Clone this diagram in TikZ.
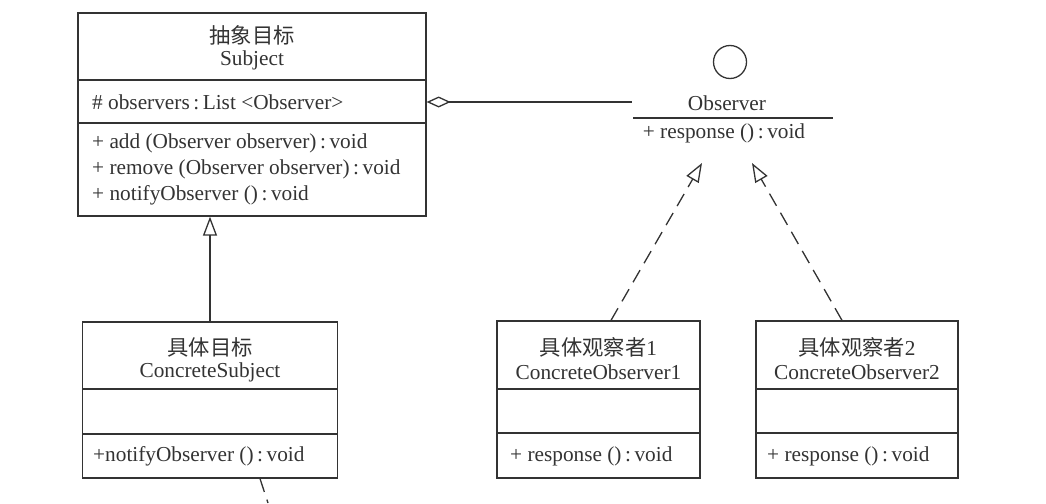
\documentclass[tikz,border=0pt]{standalone}
\usepackage{fontspec}
\setmainfont{Liberation Serif}
\newfontfamily\cjk{Noto Sans CJK SC}
\usetikzlibrary{arrows.meta}
\definecolor{ink}{HTML}{333333}
\begin{document}
\begin{tikzpicture}[x=1pt,y=-1pt,
  every node/.style={text=ink,font=\fontsize{21.3}{26}\selectfont,inner sep=0pt},
  umlbox/.style={draw=ink,line width=1.3pt,rectangle,fill=none},
  sep/.style={draw=ink,line width=1.3pt},
  conn/.style={draw=ink,line width=1.3pt},
  realize/.style={conn,dash pattern=on 14pt off 8pt,-{Triangle[open,length=19pt,width=14pt,line width=1.3pt]}},
  inherit/.style={conn,-{Triangle[open,length=19pt,width=14pt,line width=1.3pt]}},
  attr/.style={anchor=west}
]
\useasboundingbox (0,0) rectangle (1046,503);

% Subject
\node[umlbox,minimum width=348pt,minimum height=203pt] (subj) at (252,114.5) {};
\draw[sep] (78,80) -- (426,80);
\draw[sep] (78,123) -- (426,123);
\node (subjcn) at (252,35) {\cjk 抽象目标};
\node (subjen) at (252,60.5) {Subject};
\node[attr] (subja) at (92,102) {\# observers\,:\,List <Observer>};
\node[attr] (subjo1) at (92,143) {+ add (Observer observer)\,:\,void};
\node[attr] (subjo2) at (92,169) {+ remove (Observer observer)\,:\,void};
\node[attr] (subjo3) at (92,195) {+ notifyObserver ()\,:\,void};

% ConcreteSubject
\node[umlbox,minimum width=255pt,minimum height=156pt] (csubj) at (210,400) {};
\draw[sep] (82.5,389) -- (337.5,389);
\draw[sep] (82.5,434) -- (337.5,434);
\node (csubjcn) at (210,347) {\cjk 具体目标};
\node (csubjen) at (210,372.5) {ConcreteSubject};
\node[attr] (csubjo) at (93,456) {+notifyObserver ()\,:\,void};

% ConcreteObserver1
\node[umlbox,minimum width=203pt,minimum height=157pt] (co1) at (598.5,399.5) {};
\draw[sep] (497,389) -- (700,389);
\draw[sep] (497,433) -- (700,433);
\node (co1cn) at (598.5,347) {\cjk 具体观察者\rmfamily 1};
\node (co1en) at (598.5,372.5) {ConcreteObserver1};
\node[attr] (co1o) at (510,456) {+ response ()\,:\,void};

% ConcreteObserver2
\node[umlbox,minimum width=202pt,minimum height=157pt] (co2) at (857,399.5) {};
\draw[sep] (756,389) -- (958,389);
\draw[sep] (756,433) -- (958,433);
\node (co2cn) at (857,347) {\cjk 具体观察者\rmfamily 2};
\node (co2en) at (857,372.5) {ConcreteObserver2};
\node[attr] (co2o) at (767,456) {+ response ()\,:\,void};

% Observer interface
\node[circle,draw=ink,line width=1.3pt,minimum size=33pt] (obsc) at (730,62) {};
\node (obs) at (727,103.5) {Observer};
\draw[sep] (633,118) -- (833,118);
\node (obso) at (724,133) {+ response ()\,:\,void};

% connectors
\coordinate (obsL) at (632,102);
\coordinate (t1) at (702,163);
\coordinate (t2) at (752,163);
\coordinate (below) at (268,503);

\draw[inherit] (csubj.north) -- (csubj.north |- subj.south);
\draw[conn,{Diamond[open,length=24pt,width=11pt,line width=1.3pt]}-] (subj.east |- obsL) -- (obsL);
\draw[realize] ([xshift=12.5pt]co1.north) -- (t1);
\draw[realize] ([xshift=-15pt]co2.north) -- (t2);
\draw[conn,dash pattern=on 14pt off 8pt] ([xshift=50pt]csubj.south) -- (below);
\end{tikzpicture}
\end{document}
